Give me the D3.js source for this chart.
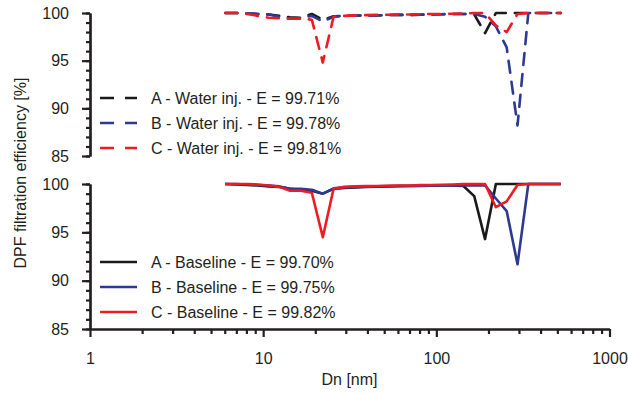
<!DOCTYPE html>
<html>
<head>
<meta charset="utf-8">
<script src="https://cdn.jsdelivr.net/npm/d3@7"></script>
<style>
  html, body { margin: 0; padding: 0; background: #fff; }
  svg { display: block; font-family: "Liberation Sans", Arial, sans-serif; }
  text { fill: #231f20; }
</style>
</head>
<body>
<svg id="chart" width="628" height="394"></svg>
<script>
// Particle mobility diameter channels [nm]
const diameters = [6.04, 6.98, 8.06, 9.31, 10.8, 12.4, 14.3, 16.5, 19.1, 22.1, 25.5, 29.4, 34.0, 39.2, 45.3, 52.3,
  60.4, 69.8, 80.6, 93.1, 107.5, 124.1, 143.3, 165.5, 191.1, 220.7, 254.8, 294.3, 339.8, 392.4, 453.2, 523.3];

// Filtration efficiency [%] with water injection
const waterA = [100, 100, 99.95, 99.9, 99.85, 99.7, 99.55, 99.5, 99.9, 99.3, 99.65, 99.7, 99.72, 99.75, 99.75, 99.78,
  99.8, 99.8, 99.82, 99.85, 99.87, 99.9, 99.9, 99.85, 97.9, 100, 100, 100, 100, 100, 100, 100];
const waterB = [100, 100, 99.95, 99.9, 99.85, 99.6, 99.45, 99.45, 99.7, 99.1, 99.6, 99.7, 99.72, 99.75, 99.75, 99.78,
  99.8, 99.8, 99.82, 99.85, 99.87, 99.9, 99.9, 99.9, 99.6, 98.6, 96.4, 88.2, 100, 100, 100, 100];
const waterC = [100, 100, 99.9, 99.7, 99.5, 99.45, 99.4, 99.4, 99.3, 94.8, 99.6, 99.7, 99.75, 99.78, 99.8, 99.82,
  99.85, 99.85, 99.87, 99.9, 99.9, 99.92, 99.95, 100, 100, 98.7, 98.0, 99.9, 100, 100, 100, 100];

// Filtration efficiency [%] at baseline
const baseA = [100, 99.95, 99.9, 99.85, 99.75, 99.7, 99.5, 99.4, 99.3, 99.0, 99.5, 99.6, 99.65, 99.7, 99.72, 99.75,
  99.78, 99.8, 99.8, 99.82, 99.85, 99.85, 99.8, 98.75, 94.3, 100, 100, 100, 100, 100, 100, 100];
const baseB = [100, 100, 99.95, 99.9, 99.85, 99.75, 99.5, 99.5, 99.4, 99.0, 99.55, 99.65, 99.7, 99.72, 99.75, 99.78,
  99.8, 99.8, 99.82, 99.82, 99.85, 99.85, 99.85, 99.85, 99.85, 98.5, 97.2, 91.7, 100, 100, 100, 100];
const baseC = [100, 100, 100, 99.95, 99.85, 99.7, 99.3, 99.3, 99.1, 94.5, 99.5, 99.7, 99.75, 99.78, 99.8, 99.82,
  99.85, 99.85, 99.88, 99.9, 99.92, 99.95, 100, 100, 100, 97.6, 98.2, 99.9, 100, 100, 100, 100];

const seriesNames = ["A", "B", "C"];
const waterLabels = ["A - Water inj. - E = 99.71%", "B - Water inj. - E = 99.78%", "C - Water inj. - E = 99.81%"];
const baseLabels = ["A - Baseline - E = 99.70%", "B - Baseline - E = 99.75%", "C - Baseline - E = 99.82%"];

const xMajorTicks = [1, 10, 100, 1000];
const yMajorTicks = [85, 90, 95, 100];
const yMinorTicks = d3.range(85, 101, 1);
const xMinorTicks = [];
[1, 10, 100].forEach(d => { for (let k = 2; k <= 9; k++) xMinorTicks.push(d * k); });

const colors = { A: "#1a1a1a", B: "#2e3a92", C: "#ed1c24" };
const FONT = 16;

const svg = d3.select("#chart");

const x = d3.scaleLog().domain([1, 1000]).range([90, 609.5]);
const yTop = d3.scaleLinear().domain([85, 100]).range([156, 13]);
const yBot = d3.scaleLinear().domain([85, 100]).range([329, 184]);

function styleAxis(g) {
  g.select(".domain").attr("stroke", "#231f20").attr("stroke-width", 2.2);
  g.selectAll(".tick line").attr("stroke", "#231f20").attr("stroke-width", 2.2);
  g.selectAll(".tick text").attr("font-size", FONT).attr("fill", "#231f20")
    .attr("font-family", "Liberation Sans, Arial, sans-serif");
}

function drawYAxis(y) {
  svg.append("g").attr("transform", "translate(90,0)")
    .call(d3.axisLeft(y).tickValues(yMinorTicks).tickFormat("").tickSize(4).tickSizeOuter(0))
    .call(styleAxis);
  svg.append("g").attr("transform", "translate(90,0)")
    .call(d3.axisLeft(y).tickValues(yMajorTicks).tickFormat(d3.format("d")).tickSize(8).tickSizeOuter(0).tickPadding(13))
    .call(styleAxis);
}
drawYAxis(yTop);
drawYAxis(yBot);

// Shared logarithmic x axis under the lower panel
svg.append("g").attr("transform", "translate(0,329)")
  .call(d3.axisBottom(x).tickValues(xMinorTicks).tickFormat("").tickSize(5).tickSizeOuter(0))
  .call(styleAxis);
svg.append("g").attr("transform", "translate(0,329)")
  .call(d3.axisBottom(x).tickValues(xMajorTicks).tickFormat(d3.format("d")).tickSize(8).tickSizeOuter(0).tickPadding(16))
  .call(styleAxis);

svg.append("text").attr("x", 349.5).attr("y", 385).attr("text-anchor", "middle")
  .attr("font-size", FONT).text("Dn [nm]");
svg.append("text").attr("transform", "translate(26,173) rotate(-90)").attr("text-anchor", "middle")
  .attr("font-size", FONT).text("DPF filtration efficiency [%]");

function drawSeries(values, y, color, dashed) {
  const line = d3.line().x((d, i) => x(diameters[i])).y(d => y(d));
  svg.append("path").datum(values)
    .attr("d", line)
    .attr("fill", "none")
    .attr("stroke", color)
    .attr("stroke-width", 2.6)
    .attr("stroke-linejoin", "round")
    .attr("stroke-linecap", dashed ? "round" : "butt")
    .attr("stroke-dasharray", dashed ? "12,9" : null);
}

const waterSeries = [waterA, waterB, waterC];
const baseSeries = [baseA, baseB, baseC];
seriesNames.forEach((s, i) => drawSeries(waterSeries[i], yTop, colors[s], true));
seriesNames.forEach((s, i) => drawSeries(baseSeries[i], yBot, colors[s], false));

function drawLegend(labels, y0, dashed) {
  labels.forEach((lab, i) => {
    const yy = y0 + i * 25;
    svg.append("line").attr("x1", 100).attr("x2", 137).attr("y1", yy).attr("y2", yy)
      .attr("stroke", colors[seriesNames[i]]).attr("stroke-width", 2.6)
      .attr("stroke-dasharray", dashed ? "14,11" : null);
    svg.append("text").attr("x", 151).attr("y", yy + 5.5).attr("font-size", FONT).text(lab);
  });
}
drawLegend(waterLabels, 98, true);
drawLegend(baseLabels, 262, false);
</script>
</body>
</html>
